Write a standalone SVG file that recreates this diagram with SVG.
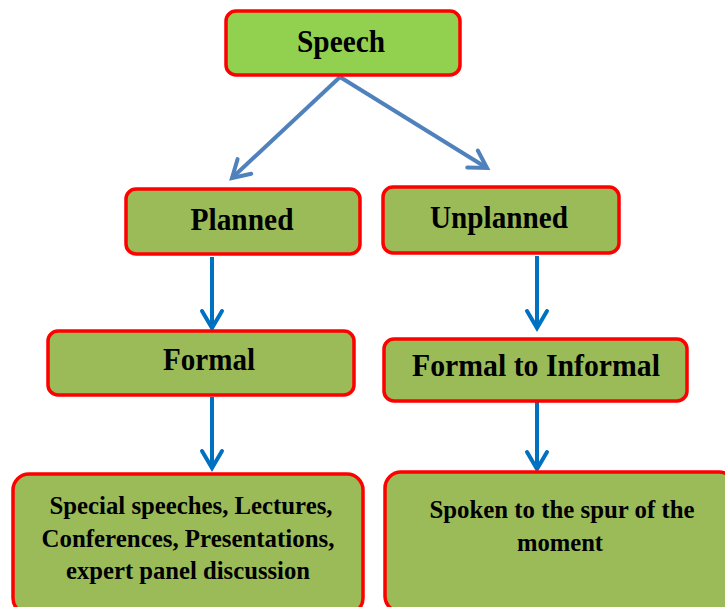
<svg xmlns="http://www.w3.org/2000/svg" width="725" height="607" viewBox="0 0 725 607">
<defs>
<marker id="vL" markerWidth="26" markerHeight="26" refX="21" refY="12" orient="auto" markerUnits="userSpaceOnUse" viewBox="0 0 26 24">
<path d="M4,2 L21,12 L4,22" fill="none" stroke="#4F81BD" stroke-width="4" stroke-linecap="round" stroke-linejoin="miter"/>
</marker>
<marker id="vD" markerWidth="26" markerHeight="26" refX="21" refY="12" orient="auto" markerUnits="userSpaceOnUse" viewBox="0 0 26 24">
<path d="M4,2 L21,12 L4,22" fill="none" stroke="#0070C0" stroke-width="4" stroke-linecap="round" stroke-linejoin="miter"/>
</marker>
</defs>
<style>
.box{stroke:#FF0000;stroke-width:3.5}
.top{fill:#92D050}
.g{fill:#9BBB59}
.t{font-family:"Liberation Serif","Times New Roman",serif;font-weight:bold;fill:#000;text-anchor:middle}
.big{font-size:31px}
.sm{font-size:25px}
.c1{stroke:#4F81BD;stroke-width:4;fill:none}
.c2{stroke:#0070C0;stroke-width:4;fill:none}
</style>
<rect width="725" height="607" fill="#fff"/>
<g id="connectors">
<path class="c1" d="M340,77 L232,178" marker-end="url(#vL)"/>
<path class="c1" d="M340,77 L487,168" marker-end="url(#vL)"/>
<path class="c2" d="M212,257 L212,328" marker-end="url(#vD)"/>
<path class="c2" d="M537,256 L537,328" marker-end="url(#vD)"/>
<path class="c2" d="M212,397 L212,468" marker-end="url(#vD)"/>
<path class="c2" d="M537,402 L537,469" marker-end="url(#vD)"/>
</g>
<g id="speech">
<rect class="box top" x="226" y="11" width="234" height="64" rx="10"/>
<text class="t big" x="341" y="52" textLength="88" lengthAdjust="spacingAndGlyphs">Speech</text>
</g>
<g id="planned">
<rect class="box g" x="126" y="189" width="234" height="65" rx="10"/>
<text class="t big" x="242" y="230" textLength="103" lengthAdjust="spacingAndGlyphs">Planned</text>
</g>
<g id="unplanned">
<rect class="box g" x="383" y="187" width="236" height="66" rx="10"/>
<text class="t big" x="499" y="228" textLength="138" lengthAdjust="spacingAndGlyphs">Unplanned</text>
</g>
<g id="formal">
<rect class="box g" x="48" y="331" width="306" height="64" rx="10"/>
<text class="t big" x="209" y="370" textLength="92" lengthAdjust="spacingAndGlyphs">Formal</text>
</g>
<g id="formal-informal">
<rect class="box g" x="384" y="339" width="303" height="62" rx="10"/>
<text class="t big" x="536" y="376" textLength="248" lengthAdjust="spacingAndGlyphs">Formal to Informal</text>
</g>
<g id="planned-examples">
<rect class="box g" x="13" y="474" width="350" height="140" rx="16"/>
<text class="t sm" x="191" y="514" textLength="283" lengthAdjust="spacingAndGlyphs">Special speeches, Lectures,</text>
<text class="t sm" x="188" y="547" textLength="293" lengthAdjust="spacingAndGlyphs">Conferences, Presentations,</text>
<text class="t sm" x="188" y="579" textLength="244" lengthAdjust="spacingAndGlyphs">expert panel discussion</text>
</g>
<g id="unplanned-examples">
<rect class="box g" x="385" y="472" width="350" height="140" rx="16"/>
<text class="t sm" x="562" y="518" textLength="265" lengthAdjust="spacingAndGlyphs">Spoken to the spur of the</text>
<text class="t sm" x="560" y="551" textLength="86" lengthAdjust="spacingAndGlyphs">moment</text>
</g>
</svg>
